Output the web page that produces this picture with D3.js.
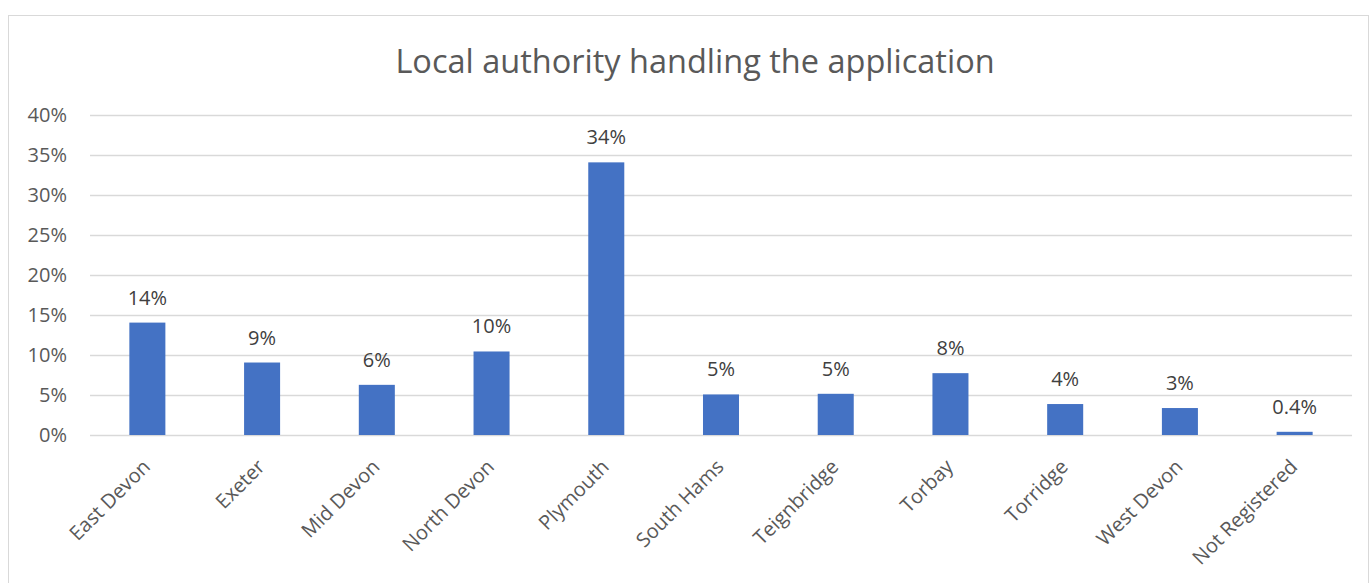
<!DOCTYPE html>
<html>
<head>
<meta charset="utf-8">
<script src="https://cdn.jsdelivr.net/npm/d3@7"></script>
<style>
  html, body { margin: 0; padding: 0; background: #fff; }
  svg { display: block; }
</style>
</head>
<body>
<svg id="chart" width="1370" height="583"></svg>
<script>
// Share of applications by handling local authority
const categories = ["East Devon", "Exeter", "Mid Devon", "North Devon", "Plymouth",
  "South Hams", "Teignbridge", "Torbay", "Torridge", "West Devon", "Not Registered"];
const shares = [14.05, 9.06, 6.27, 10.44, 34.08, 5.07, 5.15, 7.73, 3.87, 3.37, 0.4];
const yTicks = [0, 5, 10, 15, 20, 25, 30, 35, 40];
const title = "Local authority handling the application";

const svg = d3.select("#chart");
const W = 1370, H = 583;
const plot = { left: 90, right: 1352, top: 115, bottom: 435 };
const font = "'Open Sans', 'Noto Sans', sans-serif";

// chart frame
svg.append("rect")
  .attr("x", 8.5).attr("y", 15.5)
  .attr("width", W - 10).attr("height", H)
  .attr("fill", "#fff").attr("stroke", "#d9d9d9").attr("stroke-width", 1);

const x = d3.scaleBand().domain(categories)
  .range([plot.left, plot.right]).paddingInner(0.686).paddingOuter(0.343);
const y = d3.scaleLinear().domain([0, 40]).range([plot.bottom, plot.top]);

// gridlines + y labels
const yAxis = d3.axisLeft(y).tickValues(yTicks)
  .tickFormat(d => d + "%").tickSize(-(plot.right - plot.left)).tickPadding(23);
const gy = svg.append("g").attr("transform", `translate(${plot.left},0)`).call(yAxis);
gy.select(".domain").remove();
gy.selectAll(".tick line").attr("stroke", "#d9d9d9").attr("stroke-width", 1.3);
gy.selectAll(".tick text").attr("fill", "#595959")
  .style("font-family", font).style("font-size", "20px");

// bars
svg.append("g").selectAll("rect").data(categories).join("rect")
  .attr("x", d => x(d))
  .attr("width", x.bandwidth())
  .attr("y", (d, i) => y(shares[i]))
  .attr("height", (d, i) => y(0) - y(shares[i]))
  .attr("fill", "#4472c4");

// value labels above bars
const fmt = v => v < 1 ? d3.format(".1f")(v) + "%" : d3.format(".0f")(v) + "%";
svg.append("g").selectAll("text").data(categories).join("text")
  .attr("x", d => x(d) + x.bandwidth() / 2)
  .attr("y", (d, i) => y(shares[i]) - 18)
  .attr("text-anchor", "middle")
  .attr("fill", "#404040")
  .style("font-family", font).style("font-size", "20px")
  .text((d, i) => fmt(shares[i]));

// category labels, rotated
const xAxis = d3.axisBottom(x).tickSize(0).tickPadding(0);
const gx = svg.append("g").attr("transform", `translate(0,${plot.bottom})`).call(xAxis);
gx.select(".domain").remove();
gx.selectAll(".tick text")
  .attr("fill", "#595959")
  .style("font-family", font).style("font-size", "20px")
  .attr("text-anchor", "end")
  .attr("dy", 0).attr("y", 0)
  .attr("transform", "translate(4,33) rotate(-45)");

// title
svg.append("text")
  .attr("x", 695).attr("y", 73)
  .attr("text-anchor", "middle")
  .attr("fill", "#595959")
  .style("font-family", font).style("font-size", "32.5px")
  .text(title);
</script>
</body>
</html>
